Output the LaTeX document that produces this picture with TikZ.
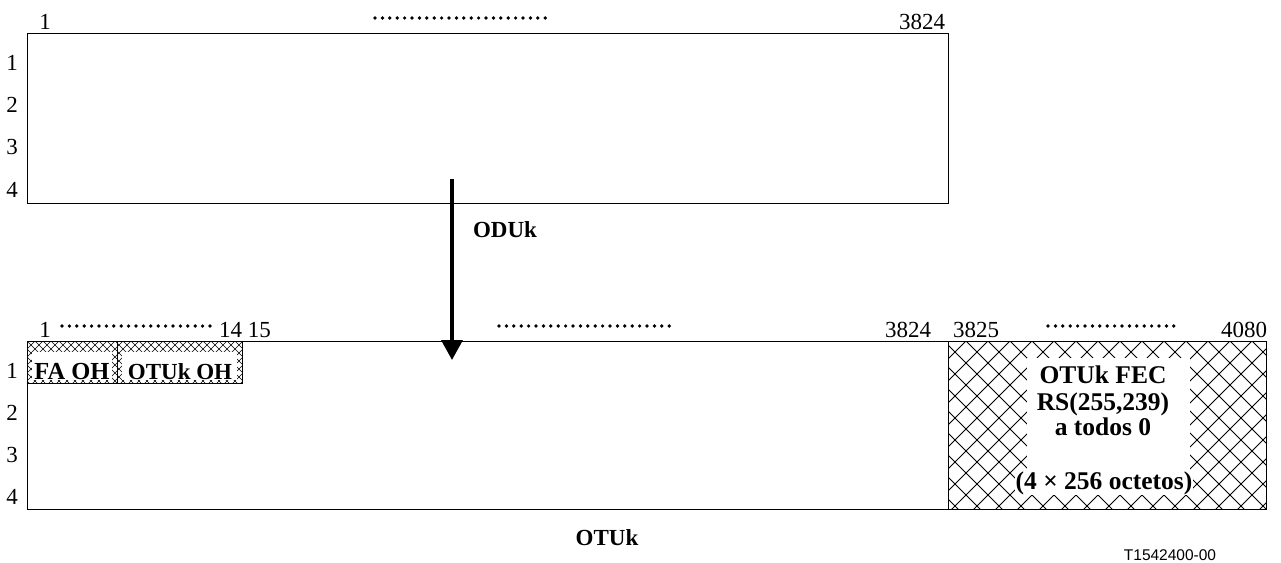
\documentclass[tikz,border=0pt]{standalone}
\usepackage{fontspec}
\setmainfont{Liberation Serif}
\newfontfamily\tagfont{Liberation Sans}
\usetikzlibrary{arrows.meta}
\begin{document}
\begin{tikzpicture}[x=1pt,y=-1pt,
  lbl/.style={font=\fontsize{23}{27}\selectfont, inner sep=0pt, anchor=base},
  blbl/.style={font=\fontsize{23}{27}\selectfont\bfseries, inner sep=0pt, anchor=base},
  feclbl/.style={font=\fontsize{25.5}{30}\selectfont\bfseries, inner sep=0pt, anchor=base},
  ohlbl/.style={font=\fontsize{24.5}{28}\selectfont\bfseries, inner sep=0pt, anchor=base},
  frame/.style={draw, line width=1.3pt, inner sep=0pt, anchor=north west},
  dotrow/.style={line width=3.7pt, line cap=round, dash pattern=on 0pt off 7.4pt},
  hatch/.style={line width=0.8pt},
  finehatch/.style={line width=0.6pt},
  bigarrow/.style={line width=3.6pt, -{Triangle[length=20pt,width=21pt]}}]
\useasboundingbox (0,0) rectangle (1281,562);

% ---- top ODUk frame ----
\node[frame, minimum width=921pt, minimum height=170pt] (odu) at (27,33) {};
\node[lbl] (th1) at (45,29) {1};
\draw[dotrow] (375,18) -- (550,18);
\node[lbl] (th3824) at (922,29) {3824};
\foreach \r/\yy in {1/70,2/112,3/154,4/197}{
  \node[lbl] (tr\r) at (12,\yy) {\r};
}
\node[blbl] (odulbl) at (505,237) {ODUk};

% ---- bottom OTUk frame: hatching first ----
\begin{scope}
  \clip (948,341) rectangle (1266,509);
  \foreach \c in {-200,-178,...,520}{
    \draw[hatch] (946+\c,341) -- ++(200,200);
    \draw[hatch] (946+\c,341) -- ++(-200,200);
  }
\end{scope}
\fill[white] (1027,358) rectangle (1190,476);

\begin{scope}
  \clip (27,341) rectangle (242,383);
  \foreach \c in {-64,-56,...,290}{
    \draw[finehatch] (27+\c,341) -- ++(50,50);
    \draw[finehatch] (27+\c,341) -- ++(-50,50);
  }
\end{scope}
\fill[white] (32,352) rectangle (112,380);
\fill[white] (122,352) rectangle (237,380);

\node[frame, minimum width=1239pt, minimum height=168pt] (otu) at (27,341) {};
\node[frame, minimum width=318pt, minimum height=168pt] (fec) at (948,341) {};
\node[frame, line width=0.9pt, minimum width=90pt, minimum height=42pt] (faoh) at (27,341) {};
\node[frame, line width=0.9pt, minimum width=125pt, minimum height=42pt] (otuoh) at (117,341) {};

\node[ohlbl] (faohlbl) at (72,379) {FA OH};
\node[blbl] (otuohlbl) at (180,379) {OTUk OH};

\node[lbl] (bh1) at (45,337) {1};
\draw[dotrow] (62,326) -- (210,326);
\node[lbl] (bh1415) at (245,337) {14 15};
\draw[dotrow] (499,326) -- (673,326);
\node[lbl] (bh3824) at (908,337) {3824};
\node[lbl] (bh3825) at (976,337) {3825};
\draw[dotrow] (1048,326) -- (1178,326);
\node[lbl] (bh4080) at (1244,337) {4080};
\foreach \r/\yy in {1/378,2/420,3/462,4/504}{
  \node[lbl] (br\r) at (12,\yy) {\r};
}

\node[feclbl] (fec1) at (1103,383) {OTUk FEC};
\node[feclbl] (fec2) at (1103,410) {RS(255,239)};
\node[feclbl] (fec3) at (1103,435) {a todos 0};
\node[feclbl, fill=white, inner xsep=1pt, inner ysep=1pt] (fec4) at (1104,489) {(4 × 256 octetos)};

\node[blbl] (otulbl) at (607,545) {OTUk};
\node[inner sep=0pt, anchor=base, font=\tagfont\fontsize{15.5}{18}\selectfont] (tag) at (1170,560) {T1542400-00};

% ---- arrow ----
\coordinate (arrS) at (452,179);
\coordinate (arrE) at (452,360);
\draw[bigarrow] (arrS) -- (arrE);
\end{tikzpicture}
\end{document}
